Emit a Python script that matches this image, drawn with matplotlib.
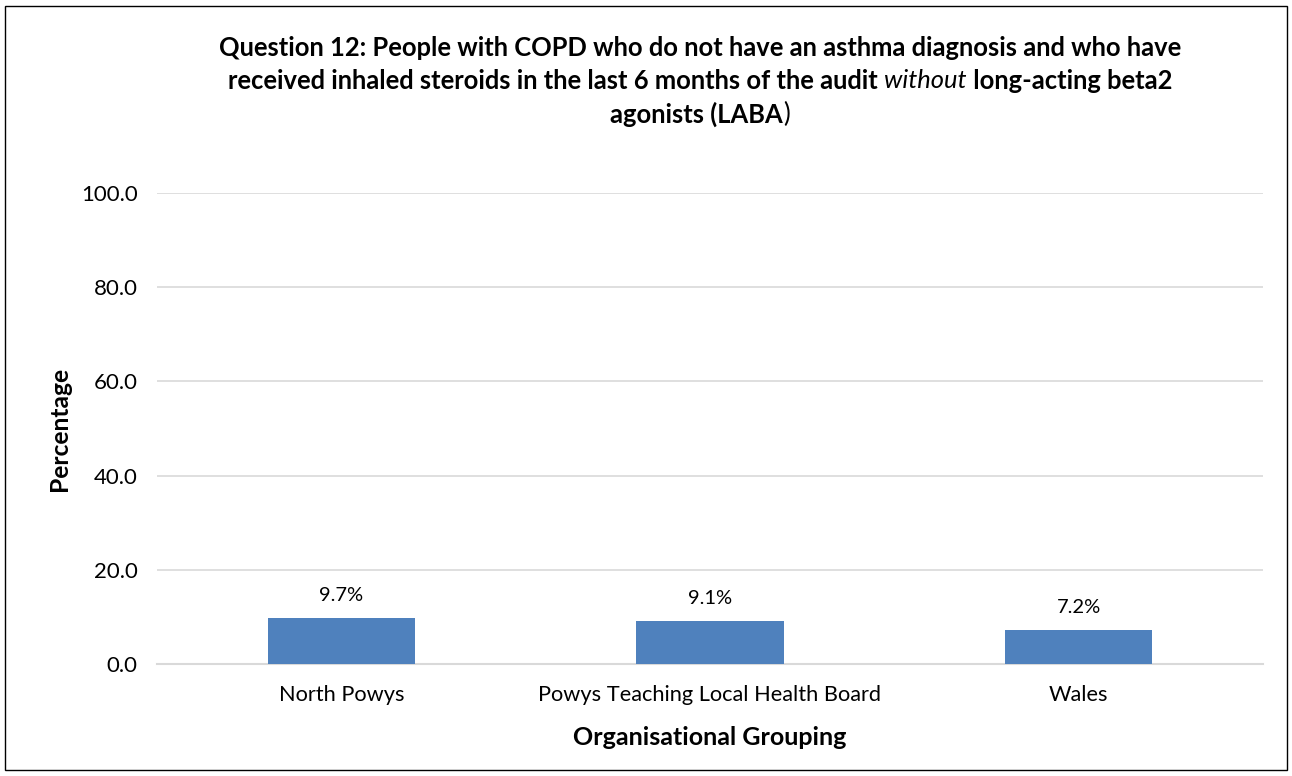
import matplotlib.pyplot as plt
from matplotlib.patches import Rectangle

groups = ["North Powys", "Powys Teaching Local Health Board", "Wales"]
values = [9.7, 9.1, 7.2]
labels = ["9.7%", "9.1%", "7.2%"]
yticks = [0, 20, 40, 60, 80, 100]

plt.rcParams['font.family'] = ['Lato', 'DejaVu Sans']

fig = plt.figure(figsize=(12.92, 7.76), dpi=100)
ax = fig.add_axes([0.1215, 0.1443, 0.856, 0.607])

xs = range(len(groups))
ax.bar(xs, values, width=0.4, color='#4F81BD', zorder=3)
for x, v, lab in zip(xs, values, labels):
    ax.annotate(lab, (x, v), xytext=(0, 10), textcoords='offset points',
                ha='center', va='bottom', fontsize=14.5)

ax.set_xlim(-0.5, 2.5)
ax.set_ylim(0, 100)
ax.set_yticks(yticks)
ax.set_yticklabels(["%.1f" % t for t in yticks], fontsize=16)
ax.set_xticks(list(xs))
ax.set_xticklabels(groups, fontsize=15.7)
ax.tick_params(axis='both', length=0)
ax.tick_params(axis='x', pad=15)
ax.tick_params(axis='y', pad=14)
ax.grid(axis='y', color='#D9D9D9', linewidth=1.2, zorder=0)
for s in ['top', 'right', 'left']:
    ax.spines[s].set_visible(False)
ax.spines['bottom'].set_color('#D9D9D9')
ax.spines['bottom'].set_linewidth(1.5)

ax.set_xlabel("Organisational Grouping", fontsize=18, fontweight='bold', labelpad=15)
ax.set_ylabel("Percentage", fontsize=17.7, fontweight='bold', labelpad=7)

# title, built from pieces to mix bold / italic
renderer = fig.canvas.get_renderer()
cx = 700 / 1292
title_lines = [
    [("Question 12: People with COPD who do not have an asthma diagnosis and who have", 'bold', 'normal')],
    [("received inhaled steroids in the last 6 months of the audit ", 'bold', 'normal'),
     ("without", 'normal', 'italic'),
     (" long-acting beta2", 'bold', 'normal')],
    [("agonists (LABA", 'bold', 'normal'), (")", 'normal', 'normal')],
]
ys = [1 - 48 / 776, 1 - 81 / 776, 1 - 114 / 776]
for parts, y in zip(title_lines, ys):
    texts = []
    for s, w, st in parts:
        t = fig.text(0, y, s, fontsize=18.4, fontweight=w, fontstyle=st,
                     ha='left', va='center')
        texts.append(t)
    widths = [t.get_window_extent(renderer).width / fig.bbox.width for t in texts]
    x0 = cx - sum(widths) / 2
    for t, wd in zip(texts, widths):
        t.set_x(x0)
        x0 += wd

fig.patches.append(Rectangle((5 / 1292, 6 / 776), 1282 / 1292, 764 / 776,
                             transform=fig.transFigure, fill=False,
                             edgecolor='black', linewidth=1))

fig.savefig("out.png", dpi=100)
